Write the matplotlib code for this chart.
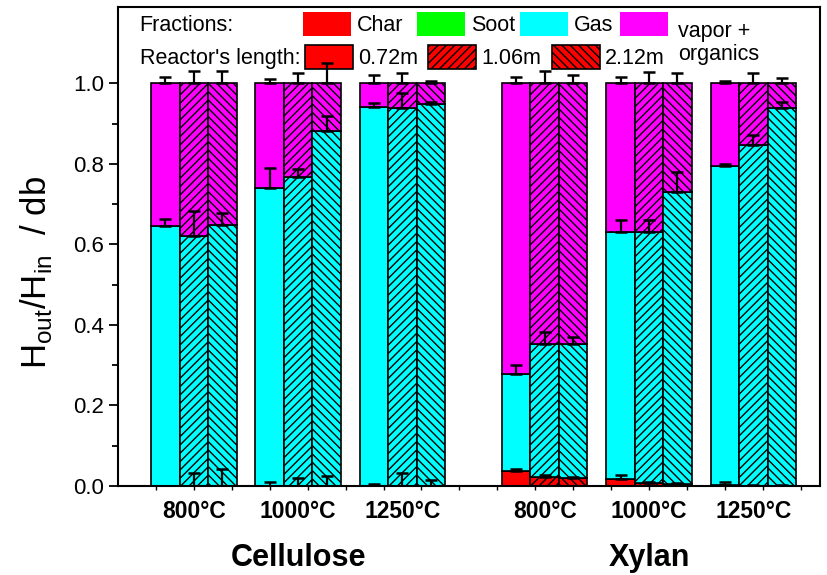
import matplotlib
matplotlib.use("Agg")
import matplotlib.pyplot as plt
from matplotlib.patches import Rectangle
import numpy as np

plt.rcParams['font.family'] = ['Liberation Sans', 'DejaVu Sans']
plt.rcParams['mathtext.fontset'] = 'custom'
plt.rcParams['mathtext.rm'] = 'Liberation Sans'
plt.rcParams['hatch.linewidth'] = 1.0

# groups: Cellulose 800/1000/1250, Xylan 800/1000/1250 ; columns: 0.72m, 1.06m, 2.12m
materials = ["Cellulose", "Xylan"]
temps = ["800°C", "1000°C", "1250°C"]
lengths = ["0.72m", "1.06m", "2.12m"]

char = np.array([[0.0, 0.0, 0.0],
                 [0.0, 0.0, 0.0],
                 [0.0, 0.0, 0.0],
                 [0.037, 0.023, 0.020],
                 [0.017, 0.008, 0.006],
                 [0.003, 0.001, 0.001]])
soot = np.array([[0.0, 0.0, 0.0],
                 [0.0, 0.0, 0.0],
                 [0.0, 0.0, 0.0],
                 [0.0, 0.0, 0.0],
                 [0.0, 0.0, 0.0],
                 [0.0, 0.0, 0.0]])
gas = np.array([[0.645, 0.622, 0.648],
                [0.740, 0.767, 0.882],
                [0.941, 0.940, 0.950],
                [0.240, 0.329, 0.332],
                [0.615, 0.624, 0.724],
                [0.793, 0.847, 0.939]])
vapor = np.array([[0.355, 0.378, 0.352],
                  [0.260, 0.233, 0.118],
                  [0.059, 0.060, 0.050],
                  [0.723, 0.648, 0.648],
                  [0.368, 0.368, 0.270],
                  [0.204, 0.152, 0.060]])

char_err = np.array([[0.0, 0.032, 0.042],
                     [0.010, 0.020, 0.025],
                     [0.005, 0.033, 0.015],
                     [0.004, 0.004, 0.003],
                     [0.010, 0.003, 0.002],
                     [0.008, 0.001, 0.001]])
gas_err = np.array([[0.018, 0.060, 0.030],
                    [0.050, 0.020, 0.038],
                    [0.011, 0.037, 0.003],
                    [0.023, 0.030, 0.018],
                    [0.028, 0.028, 0.049],
                    [0.004, 0.025, 0.013]])
vapor_err = np.array([[0.017, 0.030, 0.030],
                      [0.012, 0.025, 0.050],
                      [0.020, 0.027, 0.005],
                      [0.017, 0.031, 0.020],
                      [0.016, 0.028, 0.027],
                      [0.006, 0.025, 0.014]])

colors = {"char": "#FF0000", "soot": "#00FF00", "gas": "#00FFFF", "vapor": "#FF00FF"}
hatches = [None, "////", "\\\\\\\\"]

fig = plt.figure(figsize=(8.28, 5.75), dpi=100)
ax = fig.add_axes([0.1425, 0.1548, 0.8475, 0.833])

width = 0.75
centers = np.array([2.0 + 2.75 * i + (1.0 if i >= 3 else 0.0) for i in range(6)])

for g in range(6):
    for j in range(3):
        x = centers[g] + (j - 1) * width
        bottom = 0.0
        for part, vals in [("char", char), ("soot", soot), ("gas", gas), ("vapor", vapor)]:
            h = vals[g, j]
            ax.bar(x, h, width, bottom=bottom, color=colors[part], edgecolor="black",
                   linewidth=1.2, hatch=hatches[j], zorder=2)
            bottom += h
        # upper error bars only
        tops = [char[g, j] + soot[g, j],
                char[g, j] + soot[g, j] + gas[g, j],
                char[g, j] + soot[g, j] + gas[g, j] + vapor[g, j]]
        errs = [char_err[g, j], gas_err[g, j], vapor_err[g, j]]
        for t, e in zip(tops, errs):
            if e > 0:
                ax.errorbar(x, t, yerr=[[0], [e]], fmt="none", ecolor="black",
                            elinewidth=1.6, capsize=4, capthick=1.8, zorder=6)

ax.set_xlim(0, 18.5)
ax.set_ylim(0, 1.19)
ax.set_xticks(np.arange(1, 19))
ax.set_xticklabels([])
ax.tick_params(axis="x", length=3, width=1, direction="out")
ax.set_yticks(np.arange(0, 1.01, 0.2))
ax.set_yticks(np.arange(0.1, 1.1, 0.2), minor=True)
ax.set_yticklabels(["%.1f" % v for v in np.arange(0, 1.01, 0.2)], fontsize=16)
ax.tick_params(axis="y", which="major", length=6.5, width=1.3, direction="out")
ax.tick_params(axis="y", which="minor", length=4, width=1.3, direction="out")
for s in ax.spines.values():
    s.set_linewidth(1.5)

fig.text(36 / 828, 1 - 272 / 575, r"H$_{\rm out}$/H$_{\rm in}$  / db", fontsize=25,
         rotation=90, ha="center", va="center")

for g in range(6):
    ax.text(centers[g], -0.054, temps[g % 3], transform=ax.get_xaxis_transform(),
            ha="center", va="center", fontsize=16.5, fontweight="bold")
for m in range(2):
    ax.text(centers[3 * m + 1], -0.151, materials[m], transform=ax.get_xaxis_transform(),
            ha="center", va="center", fontsize=22, fontweight="bold")

# legend built by hand
T = ax.transAxes
pw, ph = 0.069, 0.050
y1, y2 = 0.9644, 0.8964
fs = 15.5
ax.text(0.031, y1 - 0.004, "Fractions:", transform=T, fontsize=fs, va="center")
ax.text(0.031, y2 - 0.004, "Reactor's length:", transform=T, fontsize=fs, va="center")
frac_items = [("char", "Char", 0.2635), ("soot", "Soot", 0.4259),
              ("gas", "Gas", 0.5726), ("vapor", None, 0.7151)]
for part, lab, px in frac_items:
    ax.add_patch(Rectangle((px, y1 - ph / 2), pw, ph, transform=T,
                           facecolor=colors[part], edgecolor="none", zorder=5))
    if lab:
        ax.text(px + pw + 0.008, y1 - 0.004, lab, transform=T, fontsize=fs, va="center")
ax.text(0.7977, 0.925, "vapor +\norganics", transform=T, fontsize=fs, va="center",
        linespacing=1.15)
for j, px in enumerate([0.2664, 0.4416, 0.6182]):
    ax.add_patch(Rectangle((px, y2 - ph / 2), pw, ph, transform=T,
                           facecolor=colors["char"], edgecolor="black",
                           linewidth=1.2, hatch=hatches[j], zorder=5))
    ax.text(px + pw + 0.007, y2 - 0.004, lengths[j], transform=T, fontsize=fs, va="center")

fig.savefig("out.png", dpi=100)
